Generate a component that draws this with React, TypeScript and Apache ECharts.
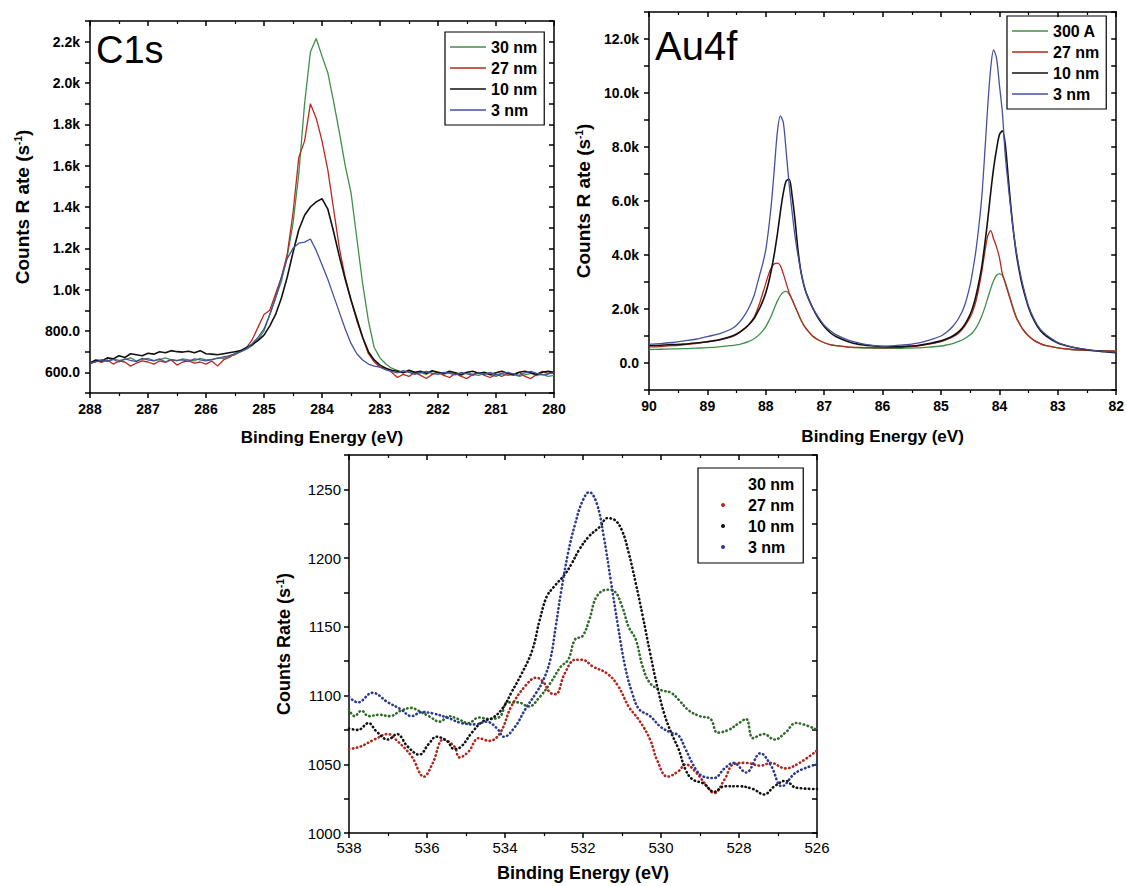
import React, { useEffect, useRef } from 'react';
import * as echarts from 'echarts';

// ---------- C1s ----------
const c1sEnergy = [
  288.0, 287.9, 287.8, 287.7, 287.6, 287.5, 287.4, 287.3, 287.2, 287.1,
  287.0, 286.9, 286.8, 286.7, 286.6, 286.5, 286.4, 286.3, 286.2, 286.1,
  286.0, 285.9, 285.8, 285.7, 285.6, 285.5, 285.4, 285.3, 285.2, 285.1,
  285.0, 284.9, 284.8, 284.7, 284.6, 284.5, 284.4, 284.3, 284.2, 284.1,
  284.0, 283.9, 283.8, 283.7, 283.6, 283.5, 283.4, 283.3, 283.2, 283.1,
  283.0, 282.9, 282.8, 282.7, 282.6, 282.5, 282.4, 282.3, 282.2, 282.1,
  282.0, 281.9, 281.8, 281.7, 281.6, 281.5, 281.4, 281.3, 281.2, 281.1,
  281.0, 280.9, 280.8, 280.7, 280.6, 280.5, 280.4, 280.3, 280.2, 280.1,
  280.0,
];
const c1s30nm = [
  648, 655, 660, 652, 665, 658, 662, 670, 655, 663,
  668, 657, 662, 670, 660, 655, 665, 660, 655, 668,
  660, 662, 670, 668, 680, 685, 700, 712, 730, 760,
  800, 880, 960, 1040, 1160, 1320, 1560, 1900, 2150, 2215,
  2130, 2050, 1910, 1760, 1600, 1470, 1250, 1030, 850, 720,
  670, 640, 620, 610, 600, 605, 595, 600, 590, 605,
  598, 590, 600, 592, 585, 598, 590, 585, 595, 588,
  580, 592, 585, 590, 580, 588, 595, 585, 590, 580,
  585,
];
const c1s27nm = [
  640, 655, 648, 660, 640, 655, 650, 630, 645, 655,
  650, 640, 655, 648, 660, 635, 650, 655, 645, 650,
  640, 655, 630, 660, 672, 690, 705, 720, 760, 820,
  880, 900, 980, 1060, 1170, 1370, 1640, 1720, 1900, 1830,
  1720, 1580, 1390, 1200, 1060, 950, 850, 770, 690, 650,
  625, 620, 600, 575, 590, 580, 600, 585, 570, 590,
  600, 585, 575, 595, 580, 570, 590, 600, 585, 575,
  590, 580, 595, 585, 600, 580, 570, 590, 605, 595,
  600,
];
const c1s10nm = [
  645, 660, 655, 670, 665, 680, 672, 690, 685, 680,
  692, 688, 700, 695, 705, 700, 698, 702, 695, 705,
  690, 688, 685, 690, 695, 700, 705, 720, 735, 755,
  780, 825, 880, 960, 1060, 1180, 1290, 1360, 1400, 1425,
  1440, 1390, 1280, 1160, 1050, 950, 860, 770, 700, 660,
  635, 620, 610, 605, 598, 610, 600, 605, 595, 608,
  600, 595, 605, 598, 590, 600, 605, 595, 600, 590,
  598, 605, 595, 590, 600, 605, 598, 590, 600, 605,
  600,
];
const c1s3nm = [
  645, 650, 660, 655, 662, 650, 665, 658, 652, 668,
  660, 655, 665, 650, 662, 658, 660, 652, 665, 660,
  655, 662, 668, 675, 680, 690, 700, 715, 740, 770,
  810, 880, 960, 1060, 1150, 1200, 1225, 1230, 1245, 1190,
  1120, 1050, 970, 890, 810, 740, 690, 660, 640, 630,
  625, 612, 605, 598, 608, 600, 590, 598, 605, 595,
  590, 600, 595, 588, 600, 592, 585, 598, 590, 600,
  588, 595, 600, 592, 585, 598, 605, 595, 588, 592,
  598,
];

// ---------- Au4f ----------
const au4fEnergy = [
  90.0, 89.8, 89.6, 89.4, 89.2, 89.0, 88.8, 88.6, 88.5, 88.4,
  88.3, 88.2, 88.15, 88.1, 88.05, 88.0, 87.95, 87.9, 87.85, 87.8,
  87.75, 87.7, 87.65, 87.6, 87.55, 87.5, 87.45, 87.4, 87.35, 87.3,
  87.2, 87.1, 87.0, 86.9, 86.8, 86.6, 86.4, 86.2, 86.0, 85.8,
  85.6, 85.4, 85.2, 85.0, 84.9, 84.8, 84.7, 84.6, 84.5, 84.45,
  84.4, 84.35, 84.3, 84.25, 84.2, 84.15, 84.1, 84.05, 84.0, 83.95,
  83.9, 83.85, 83.8, 83.75, 83.7, 83.65, 83.6, 83.5, 83.4, 83.3,
  83.2, 83.0, 82.8, 82.6, 82.4, 82.2, 82.0,
];
const au4f300A = [
  500, 510, 520, 530, 550, 570, 600, 640, 670, 720,
  790, 900, 980, 1080, 1200, 1350, 1550, 1780, 2050, 2300,
  2500, 2620, 2650, 2550, 2350, 2100, 1850, 1600, 1400, 1250,
  1000, 850, 750, 680, 640, 590, 560, 550, 540, 540,
  550, 560, 590, 630, 670, 720, 800, 900, 1050, 1150,
  1300, 1500, 1750, 2050, 2400, 2750, 3050, 3250, 3300, 3250,
  3000, 2650, 2300, 1950, 1650, 1450, 1250, 1000, 830, 720,
  640, 560, 510, 480, 460, 450, 450,
];
const au4f27nm = [
  600, 610, 640, 680, 720, 780, 850, 960, 1050, 1200,
  1400, 1700, 1950, 2250, 2600, 2950, 3300, 3550, 3680, 3700,
  3600, 3300, 2950, 2600, 2350, 2100, 1850, 1600, 1400, 1250,
  1000, 850, 750, 680, 640, 600, 580, 570, 565, 570,
  590, 630, 700, 790, 870, 970, 1100, 1350, 1700, 1950,
  2300, 2800, 3400, 4100, 4700, 4900, 4600, 4300, 3900, 3300,
  2950, 2600, 2250, 1900, 1620, 1420, 1250, 1000, 830, 720,
  640, 560, 510, 480, 460, 450, 440,
];
const au4f10nm = [
  650, 660, 680, 700, 740, 790, 860, 980, 1080, 1220,
  1400, 1650, 1850, 2050, 2300, 2600, 3000, 3500, 4100, 4800,
  5600, 6300, 6750, 6800, 6200, 5300, 4200, 3400, 2900, 2550,
  2050, 1650, 1350, 1130, 980, 800, 690, 640, 610, 600,
  620, 650, 720, 820, 900, 1000, 1150, 1400, 1800, 2100,
  2500, 3000, 3600, 4400, 5300, 6300, 7200, 7900, 8450, 8600,
  8100, 6900, 5700, 4700, 3900, 3300, 2800, 2050, 1550, 1200,
  1000, 740, 610, 520, 460, 420, 380,
];
const au4f3nm = [
  700, 720, 760, 820, 880, 980, 1080, 1250, 1400, 1650,
  2000, 2500, 2900, 3300, 3700, 4200, 5000, 6000, 7300, 8600,
  9150, 8900, 7800, 6600, 5600, 4700, 4000, 3400, 2900, 2550,
  2050, 1700, 1400, 1200, 1050, 860, 740, 660, 620, 640,
  680, 740, 850, 1000, 1150, 1350, 1650, 2100, 2900, 3500,
  4200, 5100, 6200, 7800, 9500, 10900, 11600, 11300, 10300, 9300,
  7700, 6600, 5600, 4700, 4000, 3400, 2900, 2100, 1600, 1250,
  1050, 760, 620, 530, 470, 430, 400,
];

// ---------- O1s ----------
const o1s30nm = [
  [538.0, 1090], [537.86, 1085], [537.68, 1089], [537.5, 1085], [537.22, 1086], [536.95, 1085],
  [536.67, 1089], [536.4, 1091], [536.22, 1089], [535.95, 1085], [535.67, 1081], [535.44, 1085],
  [535.21, 1083], [534.94, 1080], [534.67, 1084], [534.4, 1083], [534.12, 1085], [533.94, 1095],
  [533.66, 1095], [533.39, 1092], [533.11, 1099], [532.84, 1109], [532.57, 1121], [532.38, 1126],
  [532.2, 1141], [532.02, 1143], [531.84, 1155], [531.65, 1172], [531.38, 1177], [531.2, 1176],
  [531.0, 1165], [530.83, 1150], [530.65, 1141], [530.47, 1121], [530.28, 1109], [530.0, 1104],
  [529.74, 1102], [529.55, 1097], [529.28, 1089], [529.0, 1085], [528.73, 1083], [528.55, 1073],
  [528.27, 1075], [528.0, 1080], [527.82, 1083], [527.64, 1069], [527.36, 1072], [527.09, 1068],
  [526.81, 1073], [526.54, 1080], [526.0, 1075],
];
const o1s27nm = [
  [538.0, 1061], [537.7, 1063], [537.35, 1068], [537.0, 1072], [536.8, 1068], [536.4, 1056],
  [536.08, 1041], [535.85, 1051], [535.58, 1068], [535.3, 1063], [535.17, 1055], [534.94, 1059],
  [534.67, 1069], [534.4, 1067], [534.12, 1073], [533.84, 1092], [533.48, 1107], [533.2, 1113],
  [533.02, 1110], [532.84, 1102], [532.7, 1101], [532.47, 1116], [532.2, 1126], [532.02, 1126],
  [531.74, 1121], [531.38, 1116], [531.1, 1107], [530.83, 1092], [530.56, 1082], [530.28, 1068],
  [530.1, 1053], [529.83, 1041], [529.55, 1045], [529.37, 1050], [529.1, 1044], [528.82, 1034],
  [528.64, 1029], [528.37, 1039], [528.14, 1050], [527.82, 1051], [527.45, 1049], [527.18, 1051],
  [526.81, 1047], [526.45, 1051], [526.0, 1060],
];
const o1s10nm = [
  [538.0, 1076], [537.77, 1075], [537.5, 1080], [537.3, 1074], [537.0, 1068], [536.77, 1072],
  [536.5, 1063], [536.2, 1057], [535.95, 1065], [535.76, 1070], [535.49, 1067], [535.3, 1061],
  [535.12, 1063], [534.85, 1073], [534.58, 1081], [534.3, 1084], [534.03, 1092], [533.84, 1102],
  [533.57, 1116], [533.3, 1133], [533.11, 1155], [532.93, 1172], [532.75, 1179], [532.47, 1188],
  [532.29, 1196], [532.1, 1206], [531.84, 1216], [531.56, 1223], [531.38, 1229], [531.2, 1228],
  [531.0, 1220], [530.83, 1204], [530.65, 1182], [530.47, 1158], [530.28, 1131], [530.1, 1107],
  [529.92, 1087], [529.74, 1073], [529.55, 1061], [529.37, 1046], [529.19, 1039], [528.91, 1036],
  [528.64, 1030], [528.37, 1034], [528.0, 1034], [527.64, 1032], [527.36, 1028], [527.09, 1034],
  [526.81, 1038], [526.54, 1033], [526.0, 1032],
];
const o1s3nm = [
  [538.0, 1099], [537.77, 1095], [537.4, 1102], [537.0, 1095], [536.67, 1090], [536.4, 1085],
  [536.13, 1088], [535.85, 1087], [535.49, 1084], [535.12, 1080], [534.76, 1079], [534.48, 1081],
  [534.2, 1076], [534.03, 1070], [533.75, 1077], [533.48, 1090], [533.2, 1102], [533.02, 1111],
  [532.84, 1126], [532.7, 1150], [532.57, 1174], [532.38, 1204], [532.2, 1225], [532.02, 1241],
  [531.84, 1248], [531.65, 1240], [531.47, 1216], [531.29, 1184], [531.1, 1150], [530.92, 1121],
  [530.74, 1102], [530.56, 1090], [530.28, 1085], [530.0, 1077], [529.74, 1073], [529.55, 1071],
  [529.37, 1061], [529.1, 1046], [528.91, 1041], [528.64, 1040], [528.37, 1047], [528.14, 1051],
  [527.82, 1044], [527.45, 1058], [527.18, 1049], [526.9, 1034], [526.54, 1044], [526.0, 1050],
];

const FONT = "'Liberation Sans', Arial, Helvetica, sans-serif";
const GREEN = '#3f8f4a';
const RED = '#b8291f';
const BLACK = '#111111';
const BLUE = '#45519e';

function zip(xs: number[], ys: number[]) {
  const n = Math.min(xs.length, ys.length);
  const out: number[][] = [];
  for (let i = 0; i < n; i++) out.push([xs[i], ys[i]]);
  return out;
}

function makeAxes(o: any) {
  const lineStyle = { color: '#000', width: 1.5 };
  const labelStyle = { color: '#000', fontFamily: FONT, fontSize: o.fontSize, fontWeight: o.fontWeight };
  const nameStyle = (fs: number) => ({
    color: '#000', fontFamily: FONT, fontSize: fs, fontWeight: 'bold',
    rich: { sup: { color: '#000', fontFamily: FONT, fontSize: Math.round(fs * 0.55), fontWeight: 'bold', verticalAlign: 'top' } },
  });
  const xBase = {
    type: 'value', gridIndex: o.grid, min: o.xmin, max: o.xmax, interval: o.xint, inverse: true,
    splitLine: { show: false },
    minorTick: { show: true, splitNumber: 2, length: 3, lineStyle: { color: '#000', width: 1.2 } },
  };
  const yBase = {
    type: 'value', gridIndex: o.grid, min: o.ymin, max: o.ymax, interval: o.yint, splitLine: { show: false },
  };
  const xAxes = [
    {
      ...xBase, position: 'bottom',
      axisLine: { show: true, onZero: false, lineStyle },
      axisTick: { show: true, inside: false, length: 5, lineStyle },
      axisLabel: { ...labelStyle, margin: o.xLabelMargin },
      name: o.xName, nameLocation: 'middle', nameGap: o.xNameGap, nameTextStyle: nameStyle(o.xNameSize),
    },
    {
      ...xBase, position: 'top',
      axisLine: { show: true, onZero: false, lineStyle },
      axisTick: { show: true, inside: true, length: 5, lineStyle },
      axisLabel: { show: false },
    },
  ];
  const yAxes = [
    {
      ...yBase, position: 'left',
      axisLine: { show: true, onZero: false, lineStyle },
      axisTick: { show: true, inside: false, length: 5, lineStyle },
      axisLabel: { ...labelStyle, margin: o.yLabelMargin, formatter: o.yFmt },
      name: o.yName, nameLocation: 'middle', nameGap: o.yNameGap, nameTextStyle: nameStyle(o.yNameSize),
    },
    {
      ...yBase, position: 'right',
      axisLine: { show: true, onZero: false, lineStyle },
      axisTick: { show: true, inside: true, length: 5, lineStyle },
      axisLabel: { show: false },
    },
  ];
  return { xAxes, yAxes };
}

function lineSeries(name: string, axis: number, data: number[][], color: string, width: number, smooth: number | boolean) {
  return {
    type: 'line', name, xAxisIndex: axis, yAxisIndex: axis, data,
    symbol: 'none', showSymbol: false, smooth,
    lineStyle: { color, width }, itemStyle: { color },
    silent: true,
  };
}

function dotSeries(name: string, axis: number, data: number[][], color: string) {
  return {
    type: 'line', name, xAxisIndex: axis, yAxisIndex: axis, data,
    symbol: 'none', showSymbol: false, smooth: 0.4,
    lineStyle: { color, width: 2.6, type: [0.4, 3.6], cap: 'round' }, itemStyle: { color },
    silent: true,
  };
}

export default function App() {
  const ref = useRef<HTMLDivElement>(null);
  useEffect(() => {
    if (!ref.current) return;
    const chart = echarts.init(ref.current, undefined, { renderer: 'svg' });

    const c1s = makeAxes({
      grid: 0, xmin: 280, xmax: 288, xint: 1, ymin: 500, ymax: 2300, yint: 100,
      fontSize: 14, fontWeight: 'bold', xLabelMargin: 9, yLabelMargin: 10,
      yFmt: (v: number) => (v % 200 === 0 ? (v < 1000 ? v.toFixed(1) : (v / 1000).toFixed(1) + 'k') : ''),
      xName: 'Binding Energy (eV)', xNameGap: 36, xNameSize: 17,
      yName: 'Counts R ate (s{sup|-1})', yNameGap: 58, yNameSize: 19,
    });
    const au = makeAxes({
      grid: 1, xmin: 82, xmax: 90, xint: 1, ymin: -1000, ymax: 13000, yint: 1000,
      fontSize: 14, fontWeight: 'bold', xLabelMargin: 9, yLabelMargin: 10,
      yFmt: (v: number) => (v % 2000 === 0 ? (v === 0 ? '0.0' : (v / 1000).toFixed(1) + 'k') : ''),
      xName: 'Binding Energy (eV)', xNameGap: 38, xNameSize: 17,
      yName: 'Counts R ate (s{sup|-1})', yNameGap: 56, yNameSize: 19,
    });
    const o1 = makeAxes({
      grid: 2, xmin: 526, xmax: 538, xint: 2, ymin: 1000, ymax: 1275, yint: 25,
      fontSize: 15, fontWeight: 'normal', xLabelMargin: 7, yLabelMargin: 8,
      yFmt: (v: number) => (v % 50 === 0 ? String(v) : ''),
      xName: 'Binding Energy (eV)', xNameGap: 31, xNameSize: 18,
      yName: 'Counts Rate (s{sup|-1})', yNameGap: 56, yNameSize: 18,
    });

    const legendText = { color: '#000', fontFamily: FONT, fontSize: 16, fontWeight: 'bold' };
    const lineLegend = (left: number, top: number, names: string[]) => ({
      orient: 'vertical', left, top, data: names, icon: 'rect', symbolKeepAspect: false,
      itemWidth: 36, itemHeight: 1.5, itemGap: 5, padding: [7, 7, 7, 5],
      borderColor: '#000', borderWidth: 1.2, textStyle: legendText, selectedMode: false,
    });

    const option: any = {
      animation: false,
      backgroundColor: '#fff',
      title: [
        { text: 'C1s', left: 96, top: 31, padding: 0, textStyle: { fontFamily: FONT, fontSize: 38, fontWeight: 'normal', color: '#000' } },
        { text: 'Au4f', left: 655, top: 26, padding: 0, textStyle: { fontFamily: FONT, fontSize: 40, fontWeight: 'normal', color: '#000' } },
      ],
      grid: [
        { left: 90, top: 21, width: 464, height: 372 },
        { left: 649, top: 12, width: 468, height: 378 },
        { left: 349, top: 455, width: 468, height: 378 },
      ],
      xAxis: [...c1s.xAxes, ...au.xAxes, ...o1.xAxes],
      yAxis: [...c1s.yAxes, ...au.yAxes, ...o1.yAxes],
      legend: [
        lineLegend(445, 32, ['30 nm', '27 nm', '10 nm', '3 nm']),
        lineLegend(1007, 16, ['300 A', '27 nm', '10 nm', '3 nm']),
        {
          orient: 'vertical', left: 698, top: 468, icon: 'circle', symbolKeepAspect: true,
          data: [
            { name: '30 nm', itemStyle: { color: 'rgba(0,0,0,0)' } },
            { name: '27 nm', itemStyle: { color: RED } },
            { name: '10 nm', itemStyle: { color: BLACK } },
            { name: '3 nm', itemStyle: { color: '#2c3a8c' } },
          ],
          itemWidth: 4, itemHeight: 4, itemGap: 5, padding: [8, 9, 8, 23],
          borderColor: '#000', borderWidth: 1.2,
          textStyle: { ...legendText, padding: [0, 0, 0, 18] }, selectedMode: false,
        },
      ],
      series: [
        lineSeries('30 nm', 0, zip(c1sEnergy, c1s30nm), GREEN, 1.3, false),
        lineSeries('27 nm', 0, zip(c1sEnergy, c1s27nm), RED, 1.3, false),
        lineSeries('10 nm', 0, zip(c1sEnergy, c1s10nm), BLACK, 1.6, false),
        lineSeries('3 nm', 0, zip(c1sEnergy, c1s3nm), BLUE, 1.3, false),
        lineSeries('300 A', 2, zip(au4fEnergy, au4f300A), GREEN, 1.3, 0.3),
        lineSeries('27 nm', 2, zip(au4fEnergy, au4f27nm), RED, 1.3, 0.3),
        lineSeries('10 nm', 2, zip(au4fEnergy, au4f10nm), BLACK, 1.6, 0.3),
        lineSeries('3 nm', 2, zip(au4fEnergy, au4f3nm), BLUE, 1.3, 0.3),
        dotSeries('30 nm', 4, o1s30nm, '#2f6b2a'),
        dotSeries('27 nm', 4, o1s27nm, '#b0261c'),
        dotSeries('10 nm', 4, o1s10nm, '#111111'),
        dotSeries('3 nm', 4, o1s3nm, '#2c3a8c'),
      ],
    };
    chart.setOption(option);
    return () => chart.dispose();
  }, []);
  return (
    <div
      ref={ref}
      style={{ position: 'fixed', left: 0, top: 0, width: 1127, height: 886, background: '#fff' }}
    />
  );
}
